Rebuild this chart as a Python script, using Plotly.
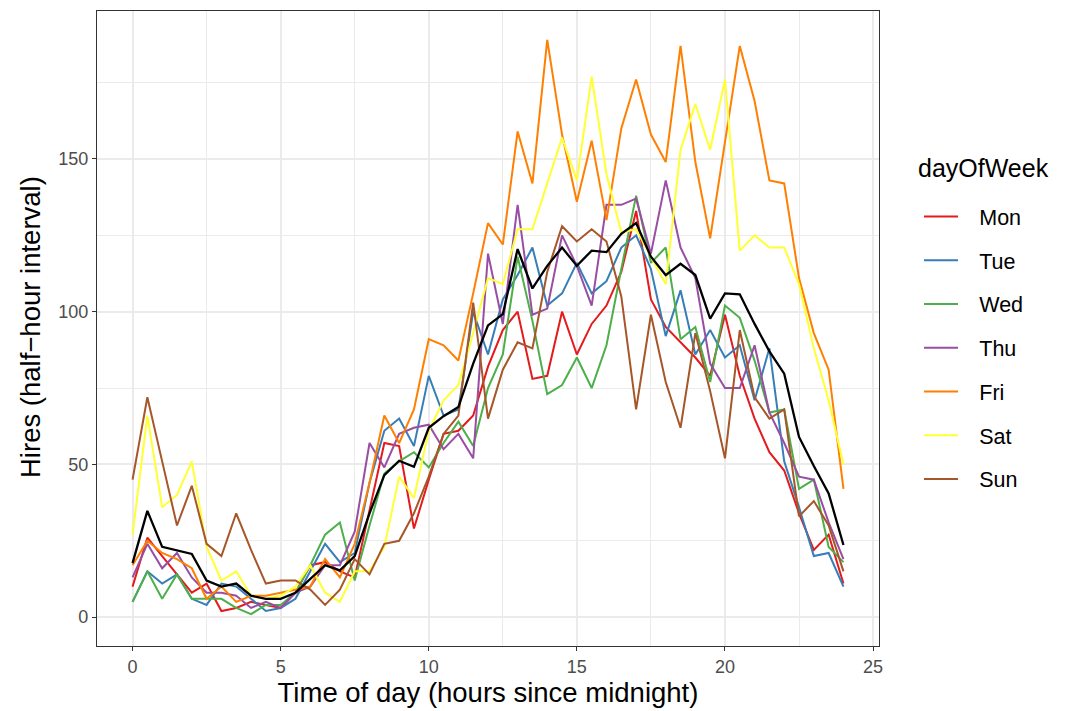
import plotly.graph_objects as go

# Half-hour time points (hours since midnight)
hours = [0, 0.5, 1, 1.5, 2, 2.5, 3, 3.5, 4, 4.5, 5, 5.5, 6, 6.5, 7, 7.5, 8, 8.5,
         9, 9.5, 10, 10.5, 11, 11.5, 12, 12.5, 13, 13.5, 14, 14.5, 15, 15.5, 16,
         16.5, 17, 17.5, 18, 18.5, 19, 19.5, 20, 20.5, 21, 21.5, 22, 22.5, 23,
         23.5, 24]

days = ["Mon", "Tue", "Wed", "Thu", "Fri", "Sat", "Sun"]

mon = [10, 26, 20, 14, 8, 11, 2, 3, 5, 4, 3, 8, 17, 18, 15, 13, 35, 57, 56, 29,
       45, 60, 61, 66, 82, 94, 100, 78, 79, 100, 86, 96, 102, 113, 133, 104, 95,
       90, 85, 79, 99, 79, 65, 54, 48, 34, 22, 27, 11]
tue = [5, 15, 11, 14, 6, 4, 11, 10, 6, 2, 3, 6, 15, 24, 18, 21, 44, 61, 65, 56,
       79, 66, 68, 100, 86, 104, 112, 121, 102, 106, 116, 106, 110, 121, 125,
       114, 92, 107, 86, 94, 85, 89, 71, 88, 51, 36, 20, 21, 10]
wed = [5, 15, 6, 14, 6, 6, 6, 3, 1, 4, 4, 8, 17, 27, 31, 12, 30, 47, 51, 54,
       49, 57, 64, 56, 75, 86, 118, 97, 73, 76, 85, 75, 89, 114, 138, 116, 121,
       91, 95, 77, 102, 98, 84, 67, 68, 42, 45, 23, 18]
thu = [13, 24, 16, 21, 13, 8, 8, 7, 3, 5, 3, 8, 10, 17, 17, 28, 57, 49, 60, 62,
       63, 55, 60, 52, 119, 96, 135, 99, 101, 125, 115, 102, 135, 135, 137, 119,
       143, 121, 111, 83, 75, 75, 89, 67, 57, 46, 45, 31, 19]
fri = [17, 25, 21, 19, 16, 6, 10, 5, 7, 7, 8, 9, 10, 19, 13, 24, 44, 66, 57, 68,
       91, 89, 84, 106, 129, 122, 159, 142, 189, 158, 136, 156, 130, 160, 176,
       158, 149, 187, 149, 124, 156, 187, 169, 143, 142, 111, 93, 81, 42]
sat = [27, 66, 36, 40, 51, 23, 12, 15, 7, 6, 7, 10, 17, 8, 5, 15, 15, 23, 46,
       39, 61, 71, 76, 93, 111, 109, 127, 127, 142, 157, 143, 177, 145, 126,
       127, 118, 109, 153, 168, 153, 176, 120, 125, 121, 121, 109, 88, 71, 50]
sun = [45, 72, 51, 30, 43, 24, 20, 34, 22, 11, 12, 12, 9, 4, 9, 19, 14, 24, 25,
       34, 46, 60, 66, 103, 65, 81, 90, 88, 113, 128, 123, 127, 123, 105, 68,
       99, 77, 62, 93, 74, 52, 94, 72, 65, 68, 33, 38, 30, 15]

# Mean across all days of the week
mean_hires = [17.7, 34.8, 23, 21.8, 20.7, 12, 10, 11, 7, 6, 6, 8, 12.5, 17,
              15.3, 20, 34, 46.5, 51.2, 49.2, 62, 65.8, 68.8, 83, 95.5, 99.2,
              120.5, 107.6, 115, 121, 115, 120, 119.5, 125.5, 129, 118, 112,
              115.7, 112, 97.7, 106, 105.7, 96, 87, 79.7, 59, 49.5, 40.5, 23.6]

series = [mon, tue, wed, thu, fri, sat, sun]
colors = ["#E41A1C", "#377EB8", "#4DAF4A", "#984EA3", "#FF7F00", "#FFFF33", "#A65628"]

x_ticks = [0, 5, 10, 15, 20, 25]
y_ticks = [0, 50, 100, 150]

FONT = "Liberation Sans, Arial, Helvetica, sans-serif"
LABEL_PAD = "\u00a0\u00a0\u2009"

# Plot panel in pixels (left, right, top, bottom)
W, H = 1067, 711
PL, PR, PT, PB = 97, 879, 11, 646

fig = go.Figure()
for name, vals, col in zip(days, series, colors):
    fig.add_trace(go.Scatter(
        x=hours, y=vals, mode="lines", name=LABEL_PAD + name, legendgroup=name,
        line=dict(color=col, width=2),
    ))

fig.add_trace(go.Scatter(
    x=hours, y=mean_hires, mode="lines", name="mean", showlegend=False,
    line=dict(color="black", width=2.3),
))

# ggplot-style 5% expansion of the data range (counts start at zero)
all_vals = [v for s in series for v in s] + mean_hires
ymin, ymax = 0, max(all_vals)
ypad = 0.05 * (ymax - ymin)
xpad = 0.05 * (max(hours) - min(hours))

axis_common = dict(
    showline=True, mirror=True, linecolor="#333333", linewidth=1.2,
    ticks="outside", ticklen=4, tickwidth=1.2, tickcolor="#333333",
    showgrid=True, gridcolor="#EBEBEB", gridwidth=1.5,
    zeroline=False,
    tickfont=dict(family=FONT, size=18, color="#4D4D4D"),
    title_font=dict(family=FONT, size=27.5, color="black"),
)

fig.update_xaxes(
    range=[min(hours) - xpad, max(hours) + xpad],
    tickvals=x_ticks, ticktext=[str(t) for t in x_ticks],
    minor=dict(dtick=2.5, tick0=0, showgrid=True, gridcolor="#EBEBEB", gridwidth=0.8, ticks=""),
    title_text="Time of day (hours since midnight)", title_standoff=3,
    **axis_common,
)
fig.update_yaxes(
    range=[ymin - ypad, ymax + ypad],
    tickvals=y_ticks, ticktext=[str(t) for t in y_ticks],
    minor=dict(dtick=25, tick0=0, showgrid=True, gridcolor="#EBEBEB", gridwidth=0.8, ticks=""),
    **axis_common,
)

def px_x(p):
    return (p - PL) / (PR - PL)

def px_y(p):
    return (PB - p) / (PB - PT)

# y-axis title
fig.add_annotation(
    text="Hires (half\u2212hour interval)", xref="paper", yref="paper",
    x=px_x(30), y=px_y(327), xanchor="center", yanchor="middle", textangle=-90,
    showarrow=False, font=dict(family=FONT, size=27.5, color="black"),
)

# legend title
fig.add_annotation(
    text="dayOfWeek", xref="paper", yref="paper",
    x=px_x(916), y=px_y(168), xanchor="left", yanchor="middle",
    showarrow=False, font=dict(family=FONT, size=25, color="black"),
)

fig.update_layout(
    width=W, height=H,
    margin=dict(l=PL, r=W - PR, t=PT, b=H - PB),
    paper_bgcolor="white", plot_bgcolor="white",
    font=dict(family=FONT, color="black"),
    legend=dict(
        font=dict(family=FONT, size=21.5, color="black"),
        x=px_x(919), xanchor="left", y=px_y(196), yanchor="top",
        tracegroupgap=12.8, itemwidth=34,
        bgcolor="rgba(0,0,0,0)",
    ),
)

fig.write_html("out.html")
